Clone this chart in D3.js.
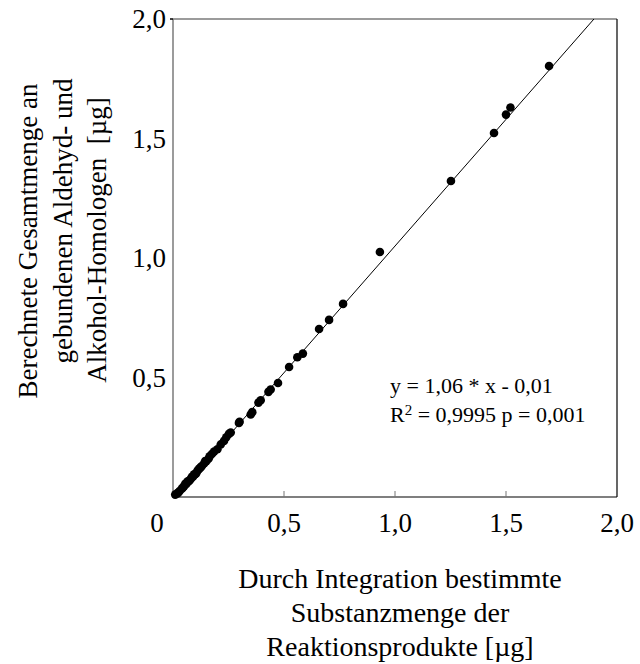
<!DOCTYPE html>
<html>
<head>
<meta charset="utf-8">
<script src="https://cdn.jsdelivr.net/npm/d3@7"></script>
<style>
  html, body { margin: 0; padding: 0; background: #fff; }
  svg { display: block; }
  svg text { font-family: 'Liberation Serif', 'Times New Roman', 'DejaVu Serif', serif; }
</style>
</head>
<body>
<svg id="chart" width="640" height="664"></svg>
<script>
// Measured amounts (µg): integrated vs. calculated
const xValues = [0.01, 0.02, 0.025, 0.03, 0.04, 0.045, 0.05, 0.055, 0.06, 0.065, 0.07, 0.075,
  0.08, 0.085, 0.09, 0.095, 0.10, 0.105, 0.11, 0.115, 0.12, 0.125, 0.13, 0.14, 0.145, 0.15,
  0.16, 0.165, 0.175, 0.185, 0.20, 0.215, 0.23, 0.24, 0.252, 0.26, 0.297, 0.30, 0.35, 0.357,
  0.385, 0.395, 0.43, 0.44, 0.473, 0.523, 0.56, 0.585, 0.658, 0.703, 0.766, 0.932, 1.252,
  1.446, 1.50, 1.52, 1.694];
const yValues = [0.01, 0.015, 0.02, 0.025, 0.035, 0.04, 0.045, 0.055, 0.055, 0.065, 0.065, 0.07,
  0.075, 0.085, 0.085, 0.095, 0.095, 0.10, 0.11, 0.115, 0.12, 0.125, 0.13, 0.14, 0.15, 0.15,
  0.16, 0.17, 0.18, 0.19, 0.20, 0.22, 0.235, 0.25, 0.264, 0.27, 0.31, 0.315, 0.345, 0.355,
  0.395, 0.405, 0.44, 0.45, 0.477, 0.544, 0.585, 0.60, 0.703, 0.741, 0.808, 1.025, 1.322,
  1.523, 1.60, 1.63, 1.803];
const tickValues = [0.5, 1.0, 1.5, 2.0];
const fitSlope = 1.06;
const fitIntercept = -0.01;
const fitEquation = "y = 1,06 * x - 0,01";
const fitStats = ["R", "2", " = 0,9995 p = 0,001"];
const xTitle = ["Durch Integration bestimmte", "Substanzmenge der", "Reaktionsprodukte [µg]"];
const yTitle = ["Berechnete Gesamtmenge an", "gebundenen Aldehyd- und", "Alkohol-Homologen\u00a0 [µg]"];

const svg = d3.select("#chart");
const plotL = 173, plotR = 617, plotT = 19, plotB = 497;
const x = d3.scaleLinear().domain([0, 2]).range([plotL, plotR]);
const y = d3.scaleLinear().domain([0, 2]).range([plotB, plotT]);
const fmt = v => d3.format(".1f")(v).replace(".", ",");

// Frame
svg.append("line").attr("x1", plotL).attr("x2", plotR).attr("y1", plotT).attr("y2", plotT)
  .attr("stroke", "#7a7a7a").attr("stroke-width", 1.5);
svg.append("line").attr("x1", plotL).attr("x2", plotL).attr("y1", plotT).attr("y2", plotB)
  .attr("stroke", "#7a7a7a").attr("stroke-width", 1.5);
svg.append("line").attr("x1", plotR).attr("x2", plotR).attr("y1", plotT).attr("y2", plotB)
  .attr("stroke", "#000").attr("stroke-width", 1.2);
svg.append("line").attr("x1", plotL).attr("x2", plotR).attr("y1", plotB).attr("y2", plotB)
  .attr("stroke", "#000").attr("stroke-width", 1.2);

// Inward x ticks
svg.append("g").selectAll("line").data(tickValues.slice(0, 3)).join("line")
  .attr("x1", d => x(d)).attr("x2", d => x(d))
  .attr("y1", plotB).attr("y2", plotB - 6)
  .attr("stroke", "#777").attr("stroke-width", 1);

// Small outward tick at top left
svg.append("line").attr("x1", plotL - 3).attr("x2", plotL).attr("y1", y(2)).attr("y2", y(2))
  .attr("stroke", "#000").attr("stroke-width", 1.5);

// X tick labels
svg.append("g").selectAll("text").data(tickValues).join("text")
  .attr("x", d => x(d)).attr("y", 532)
  .attr("text-anchor", "middle").attr("font-size", 27)
  .text(d => fmt(d));
svg.append("text").attr("x", x(0) - 16).attr("y", 532)
  .attr("text-anchor", "middle").attr("font-size", 27).text("0");

// Y tick labels
svg.append("g").selectAll("text").data(tickValues).join("text")
  .attr("x", 166).attr("y", d => y(d) + 9)
  .attr("text-anchor", "end").attr("font-size", 27)
  .text(d => fmt(d));

// Regression line
const x0 = 0.012, x1 = (2 - fitIntercept) / fitSlope;
svg.append("line")
  .attr("x1", x(x0)).attr("y1", y(fitSlope * x0 + fitIntercept))
  .attr("x2", x(x1)).attr("y2", y(fitSlope * x1 + fitIntercept))
  .attr("stroke", "#000").attr("stroke-width", 1);

// Points
svg.append("g").selectAll("circle").data(xValues.map((v, i) => [v, yValues[i]])).join("circle")
  .attr("cx", d => x(d[0])).attr("cy", d => y(d[1])).attr("r", 4.3)
  .attr("fill", "#000");

// Fit annotation
svg.append("text").attr("x", 390).attr("y", 393).attr("font-size", 22).text(fitEquation);
const stats = svg.append("text").attr("x", 390).attr("y", 422).attr("font-size", 22);
stats.append("tspan").text(fitStats[0]);
stats.append("tspan").attr("font-size", 15).attr("dy", -7).text(fitStats[1]);
stats.append("tspan").attr("dy", 7).text(fitStats[2]);

// Axis titles
svg.append("g").selectAll("text").data(xTitle).join("text")
  .attr("x", 400).attr("y", (d, i) => 588 + i * 34)
  .attr("text-anchor", "middle").attr("font-size", 28).text(d => d);

const yCenters = [[37, 241], [72, 221], [106, 240]];
svg.append("g").selectAll("text").data(yTitle).join("text")
  .attr("transform", (d, i) => `translate(${yCenters[i][0]},${yCenters[i][1]}) rotate(-90)`)
  .attr("text-anchor", "middle").attr("font-size", 27).text(d => d);
</script>
</body>
</html>
